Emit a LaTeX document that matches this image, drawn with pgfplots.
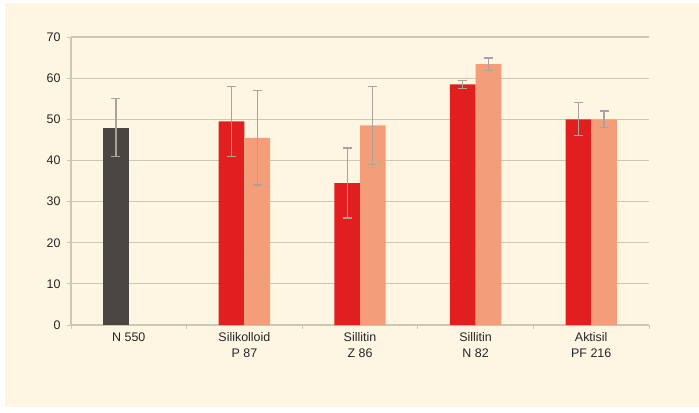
\documentclass[border=0pt]{standalone}
\usepackage{pgfplots}
\pgfplotsset{compat=1.18}
\usepackage{fontspec}
\setmainfont{Liberation Sans}
\definecolor{bgcream}{HTML}{FEF6E2}
\definecolor{gridc}{HTML}{CFC7B6}
\definecolor{darkbar}{HTML}{4A4641}
\definecolor{redbar}{HTML}{E21F1F}
\definecolor{salmonbar}{HTML}{F49D79}
\definecolor{errc}{HTML}{A8A49D}
\definecolor{txt}{HTML}{262626}
\begin{document}
\begin{tikzpicture}[x=1bp,y=1bp]
\path[use as bounding box] (0,0) rectangle (699,412);
\fill[white] (0,0) rectangle (699,412);
\fill[bgcream] (5,5) rectangle (699,409);
\begin{axis}[
  at={(71bp,87bp)}, anchor=south west,
  scale only axis,
  width=578bp, height=288bp,
  xmin=-0.5, xmax=4.5, ymin=0, ymax=70,
  ytick={0,10,...,70},
  xtick={-0.5,0.5,1.5,2.5,3.5,4.5},
  xticklabels={},
  extra x ticks={0,1,2,3,4},
  extra x tick labels={N 550,Silikolloid\\P 87,Sillitin\\Z 86,Sillitin\\N 82,Aktisil\\PF 216},
  extra x tick style={major tick length=0pt, grid=none, tick label style={align=center, yshift=-4bp}},
  ymajorgrids,
  grid style={gridc, line width=1.1bp},
  axis x line*=bottom, axis y line*=left,
  axis line style={gridc, line width=1.1bp, -},
  tick style={gridc, line width=1bp},
  major tick length=4bp,
  tick align=outside,
  x tick label style={font=\fontsize{12.5}{16}\selectfont, text=txt},
  y tick label style={font=\fontsize{12.5}{14}\selectfont, text=txt, xshift=-3bp},
  /pgf/number format/assume math mode=true,
  ybar, bar width=0.222, bar shift=0pt,
  error bars/y dir=both, error bars/y explicit,
  error bars/error bar style={errc, line width=1.3bp},
  error bars/error mark options={errc, line width=1.3bp, rotate=90, mark size=4.5bp},
]
\addplot[fill=darkbar, draw=none] table[x=x, y=y, y error=e] {
x y e
-0.111 48 7
};
\addplot[fill=redbar, draw=none] table[x=x, y=y, y error=e] {
x y e
0.889 49.5 8.5
1.889 34.5 8.5
2.889 58.5 1.0
3.889 50.0 4.0
};
\addplot[fill=salmonbar, draw=none] table[x=x, y=y, y error=e] {
x y e
1.111 45.5 11.5
2.111 48.5 9.5
3.111 63.4 1.5
4.111 50.0 2.0
};
\end{axis}
\end{tikzpicture}
\end{document}
